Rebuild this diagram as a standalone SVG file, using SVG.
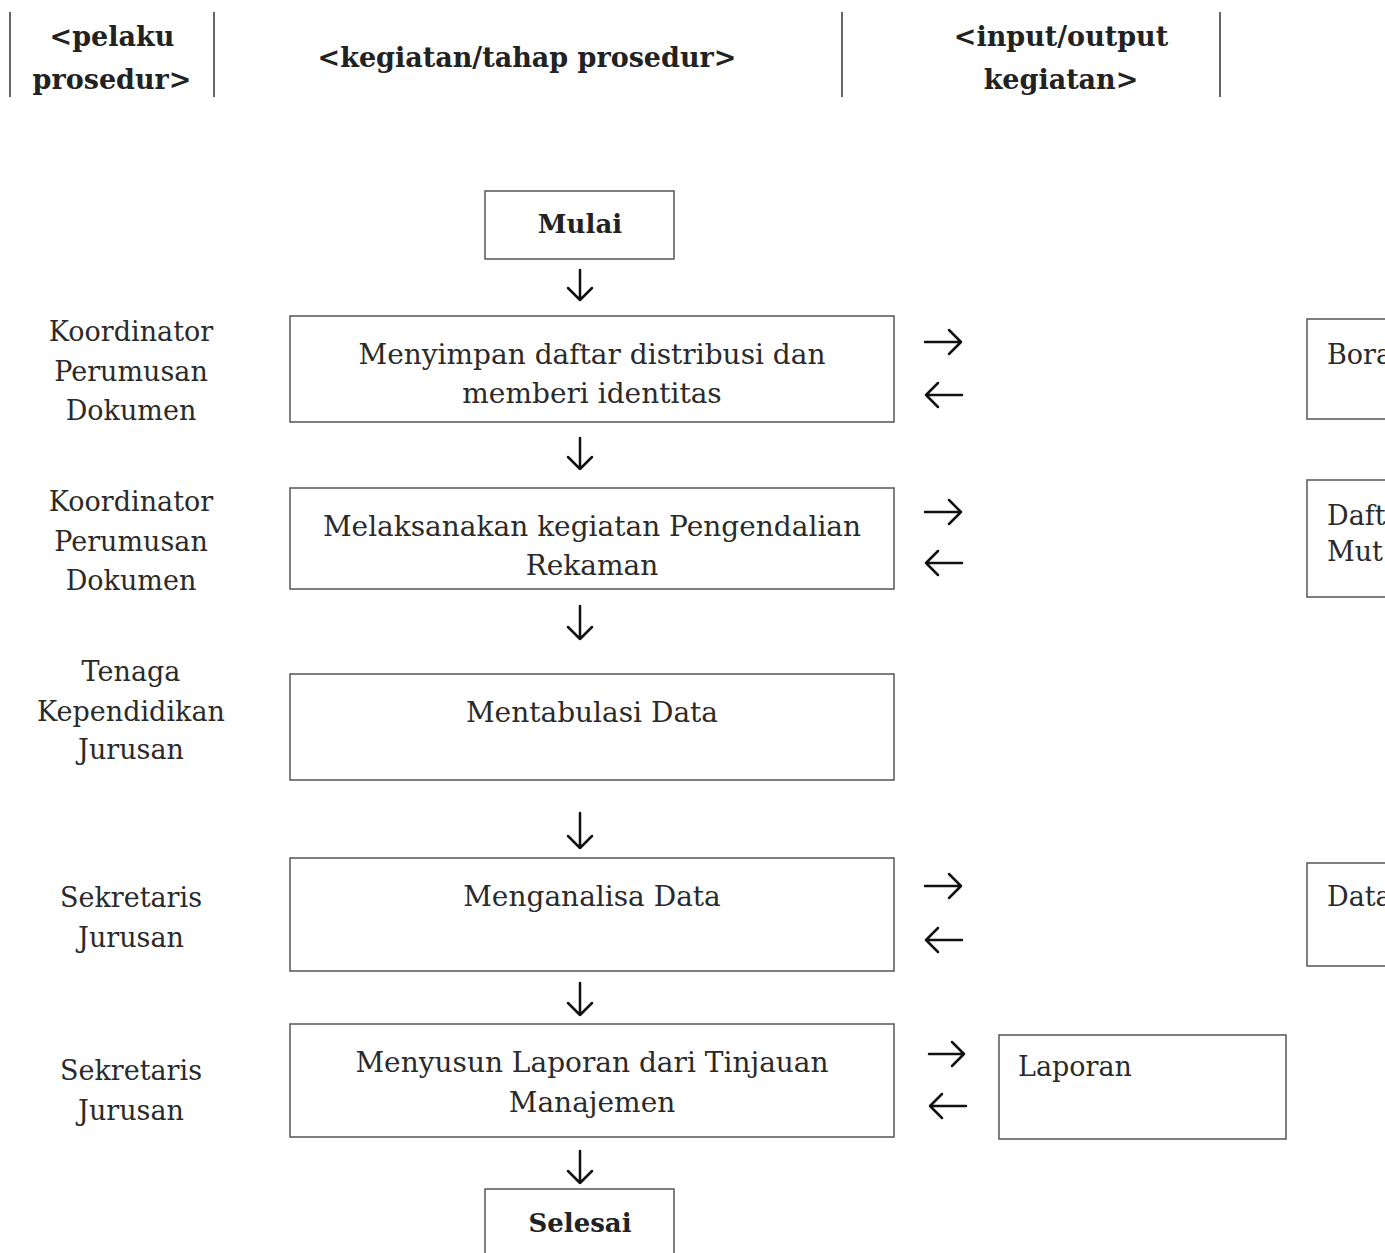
<svg xmlns="http://www.w3.org/2000/svg" width="1385" height="1253" viewBox="0 0 1385 1253">
<style>
.hd{font-family:"DejaVu Serif","Liberation Serif",serif;font-weight:bold;font-size:27px;fill:#222;text-anchor:middle}
.t{font-family:"DejaVu Serif","Liberation Serif",serif;font-size:27px;fill:#2a2a2a;text-anchor:middle}
.tm{font-family:"DejaVu Serif","Liberation Serif",serif;font-size:28px;fill:#2a2a2a;text-anchor:middle}
.tl{font-family:"DejaVu Serif","Liberation Serif",serif;font-size:27px;fill:#2a2a2a}
.tb{font-family:"DejaVu Serif","Liberation Serif",serif;font-weight:bold;font-size:26px;fill:#222;text-anchor:middle}
.box{fill:#fff;stroke:#555;stroke-width:1.5}
.sep{stroke:#333;stroke-width:1.5}
.arr{fill:none;stroke:#111;stroke-width:2.5;stroke-linecap:round;stroke-linejoin:round}
</style>
<rect width="1385" height="1253" fill="#fff"/>
<g id="header">
<line class="sep" x1="10" y1="12" x2="10" y2="97"/>
<line class="sep" x1="214" y1="12" x2="214" y2="97"/>
<line class="sep" x1="842" y1="12" x2="842" y2="97"/>
<line class="sep" x1="1220" y1="12" x2="1220" y2="97"/>
<text class="hd" x="112" y="46">&lt;pelaku</text>
<text class="hd" x="112" y="89">prosedur&gt;</text>
<text class="hd" x="527" y="67">&lt;kegiatan/tahap prosedur&gt;</text>
<text class="hd" x="1061" y="46">&lt;input/output</text>
<text class="hd" x="1061" y="89">kegiatan&gt;</text>
</g>
<g id="actors">
<text class="t" x="131" y="341">Koordinator</text>
<text class="t" x="131" y="381">Perumusan</text>
<text class="t" x="131" y="420">Dokumen</text>
<text class="t" x="131" y="511">Koordinator</text>
<text class="t" x="131" y="551">Perumusan</text>
<text class="t" x="131" y="590">Dokumen</text>
<text class="t" x="131" y="681">Tenaga</text>
<text class="t" x="131" y="721">Kependidikan</text>
<text class="t" x="131" y="759">Jurusan</text>
<text class="t" x="131" y="907">Sekretaris</text>
<text class="t" x="131" y="947">Jurusan</text>
<text class="t" x="131" y="1080">Sekretaris</text>
<text class="t" x="131" y="1120">Jurusan</text>
</g>
<g id="mulai">
<rect class="box" x="485" y="191" width="189" height="68"/>
<text class="tb" x="580" y="233">Mulai</text>
</g>
<g id="step1">
<rect class="box" x="290" y="316" width="604" height="106"/>
<text class="tm" x="592" y="364">Menyimpan daftar distribusi dan</text>
<text class="tm" x="592" y="403">memberi identitas</text>
</g>
<g id="step2">
<rect class="box" x="290" y="488" width="604" height="101"/>
<text class="tm" x="592" y="536">Melaksanakan kegiatan Pengendalian</text>
<text class="tm" x="592" y="575">Rekaman</text>
</g>
<g id="step3">
<rect class="box" x="290" y="674" width="604" height="106"/>
<text class="tm" x="592" y="722">Mentabulasi Data</text>
</g>
<g id="step4">
<rect class="box" x="290" y="858" width="604" height="113"/>
<text class="tm" x="592" y="906">Menganalisa Data</text>
</g>
<g id="step5">
<rect class="box" x="290" y="1024" width="604" height="113"/>
<text class="tm" x="592" y="1072">Menyusun Laporan dari Tinjauan</text>
<text class="tm" x="592" y="1112">Manajemen</text>
</g>
<g id="selesai">
<path class="box" d="M485 1254 V1189 H674 V1254"/>
<text class="tb" x="580" y="1232">Selesai</text>
</g>
<g id="io1">
<rect class="box" x="1307" y="319" width="100" height="100"/>
<text class="tl" x="1327" y="364">Bora</text>
</g>
<g id="io2">
<rect class="box" x="1307" y="480" width="100" height="117"/>
<text class="tl" x="1327" y="525">Daft</text>
<text class="tl" x="1327" y="561">Mut</text>
</g>
<g id="io4">
<rect class="box" x="1307" y="863" width="100" height="103"/>
<text class="tl" x="1327" y="906">Data</text>
</g>
<g id="io5">
<rect class="box" x="999" y="1035" width="287" height="104"/>
<text class="tl" x="1018" y="1076">Laporan</text>
</g>
<g id="connectors">
<path class="arr" d="M580 270 V300 M568 288 L580 300 L592 288"/>
<path class="arr" d="M580 438 V469 M568 457 L580 469 L592 457"/>
<path class="arr" d="M580 606 V639 M568 627 L580 639 L592 627"/>
<path class="arr" d="M580 813 V848 M568 836 L580 848 L592 836"/>
<path class="arr" d="M580 983 V1015 M568 1003 L580 1015 L592 1003"/>
<path class="arr" d="M580 1151 V1183 M568 1171 L580 1183 L592 1171"/>
<path class="arr" d="M925 342 H961 M949 330 L961 342 L949 354"/>
<path class="arr" d="M962 395 H926 M938 383 L926 395 L938 407"/>
<path class="arr" d="M925 512 H961 M949 500 L961 512 L949 524"/>
<path class="arr" d="M962 563 H926 M938 551 L926 563 L938 575"/>
<path class="arr" d="M925 886 H961 M949 874 L961 886 L949 898"/>
<path class="arr" d="M962 940 H926 M938 928 L926 940 L938 952"/>
<path class="arr" d="M929 1054 H964 M952 1042 L964 1054 L952 1066"/>
<path class="arr" d="M966 1106 H930 M942 1094 L930 1106 L942 1118"/>
</g>
</svg>
